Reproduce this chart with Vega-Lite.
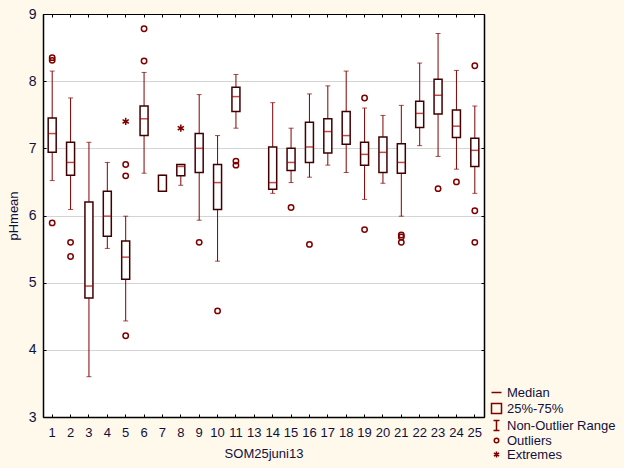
{
  "$schema": "https://vega.github.io/schema/vega-lite/v6.json",
  "width": 441,
  "height": 403,
  "autosize": {"type": "none"},
  "padding": {"left": 43, "top": 14, "right": 140, "bottom": 51},
  "background": "#FFF9EB",
  "config": {
    "view": {"fill": "white", "stroke": "black", "strokeWidth": 1},
    "font": "Liberation Sans",
    "axis": {"labelColor": "#101040", "titleColor": "#101040", "titleFontWeight": "normal", "titleFontSize": 13, "domainColor": "black", "tickColor": "black"},
    "legend": {"labelColor": "#101040", "labelFontSize": 13, "padding": 0}
  },
  "datasets": {
    "boxes": [
      {"g": "1", "lo": 6.52, "q1": 6.94, "med": 7.22, "q3": 7.45, "hi": 8.15},
      {"g": "2", "lo": 6.09, "q1": 6.6, "med": 6.79, "q3": 7.09, "hi": 7.75},
      {"g": "3", "lo": 3.6, "q1": 4.77, "med": 4.95, "q3": 6.2, "hi": 7.09},
      {"g": "4", "lo": 5.51, "q1": 5.69, "med": 5.99, "q3": 6.36, "hi": 6.79},
      {"g": "5", "lo": 4.43, "q1": 5.05, "med": 5.38, "q3": 5.62, "hi": 5.99},
      {"g": "6", "lo": 6.63, "q1": 7.19, "med": 7.44, "q3": 7.63, "hi": 8.13},
      {"g": "7", "lo": 6.36, "q1": 6.36, "med": null, "q3": 6.6, "hi": 6.6},
      {"g": "8", "lo": 6.45, "q1": 6.59, "med": 6.73, "q3": 6.76, "hi": 6.76},
      {"g": "9", "lo": 5.93, "q1": 6.64, "med": 7.0, "q3": 7.22, "hi": 7.8},
      {"g": "10", "lo": 5.32, "q1": 6.09, "med": 6.49, "q3": 6.76, "hi": 7.19},
      {"g": "11", "lo": 7.3, "q1": 7.55, "med": 7.77, "q3": 7.91, "hi": 8.1},
      {"g": "14", "lo": 6.33, "q1": 6.39, "med": 6.49, "q3": 7.02, "hi": 7.68},
      {"g": "15", "lo": 6.49, "q1": 6.67, "med": 6.79, "q3": 7.0, "hi": 7.3},
      {"g": "16", "lo": 6.57, "q1": 6.79, "med": 7.02, "q3": 7.39, "hi": 7.81},
      {"g": "17", "lo": 6.75, "q1": 6.93, "med": 7.25, "q3": 7.44, "hi": 7.93},
      {"g": "18", "lo": 6.64, "q1": 7.06, "med": 7.19, "q3": 7.55, "hi": 8.15},
      {"g": "19", "lo": 6.24, "q1": 6.75, "med": 6.91, "q3": 7.09, "hi": 7.6},
      {"g": "20", "lo": 6.48, "q1": 6.64, "med": 6.94, "q3": 7.17, "hi": 7.49},
      {"g": "21", "lo": 5.99, "q1": 6.63, "med": 6.79, "q3": 7.07, "hi": 7.64},
      {"g": "22", "lo": 7.04, "q1": 7.31, "med": 7.52, "q3": 7.7, "hi": 8.27},
      {"g": "23", "lo": 6.88, "q1": 7.51, "med": 7.79, "q3": 8.03, "hi": 8.71},
      {"g": "24", "lo": 6.69, "q1": 7.16, "med": 7.33, "q3": 7.57, "hi": 8.16},
      {"g": "25", "lo": 6.33, "q1": 6.73, "med": 6.97, "q3": 7.15, "hi": 7.63}
    ],
    "points": [
      {"g": "1", "v": 8.35, "type": "Outliers"},
      {"g": "1", "v": 8.31, "type": "Outliers"},
      {"g": "1", "v": 5.89, "type": "Outliers"},
      {"g": "2", "v": 5.6, "type": "Outliers"},
      {"g": "2", "v": 5.39, "type": "Outliers"},
      {"g": "5", "v": 6.76, "type": "Outliers"},
      {"g": "5", "v": 6.59, "type": "Outliers"},
      {"g": "5", "v": 4.21, "type": "Outliers"},
      {"g": "5", "v": 7.4, "type": "Extremes"},
      {"g": "6", "v": 8.78, "type": "Outliers"},
      {"g": "6", "v": 8.3, "type": "Outliers"},
      {"g": "8", "v": 7.3, "type": "Extremes"},
      {"g": "9", "v": 5.6, "type": "Outliers"},
      {"g": "10", "v": 4.58, "type": "Outliers"},
      {"g": "11", "v": 6.81, "type": "Outliers"},
      {"g": "11", "v": 6.75, "type": "Outliers"},
      {"g": "15", "v": 6.12, "type": "Outliers"},
      {"g": "16", "v": 5.57, "type": "Outliers"},
      {"g": "19", "v": 7.75, "type": "Outliers"},
      {"g": "19", "v": 5.79, "type": "Outliers"},
      {"g": "21", "v": 5.71, "type": "Outliers"},
      {"g": "21", "v": 5.68, "type": "Outliers"},
      {"g": "21", "v": 5.6, "type": "Outliers"},
      {"g": "23", "v": 6.4, "type": "Outliers"},
      {"g": "24", "v": 6.5, "type": "Outliers"},
      {"g": "25", "v": 8.23, "type": "Outliers"},
      {"g": "25", "v": 6.07, "type": "Outliers"},
      {"g": "25", "v": 5.6, "type": "Outliers"}
    ]
  },
  "resolve": {"axis": {"x": "independent", "y": "independent"}},
  "layer": [
    {
      "data": {"name": "boxes"},
      "mark": {"type": "rule", "color": "#800000", "strokeWidth": 1},
      "encoding": {
        "x": {"field": "g", "type": "ordinal",
          "scale": {"type": "band", "domain": ["1","2","3","4","5","6","7","8","9","10","11","13","14","15","16","17","18","19","20","21","22","23","24","25"], "paddingInner": 0, "paddingOuter": 0},
          "axis": {"orient": "bottom", "title": "SOM25juni13", "labelAngle": 0, "labelFontSize": 13, "labelPadding": 12, "tickSize": -3, "bandPosition": 0.5, "domainWidth": 1.5, "grid": false, "titlePadding": 8}},
        "y": {"field": "lo", "type": "quantitative",
          "scale": {"domain": [3, 9], "nice": false, "zero": false},
          "axis": {"orient": "left", "title": "pHmean", "values": [3,4,5,6,7,8,9], "labelFontSize": 14, "labelPadding": 10, "tickSize": -3, "domainWidth": 1.5, "grid": true, "gridColor": "#d4d4d4", "gridWidth": 1, "titlePadding": 8}},
        "y2": {"field": "hi"}
      }
    },
    {
      "data": {"name": "boxes"},
      "mark": {"type": "tick", "color": "#800000", "size": 5, "thickness": 1, "orient": "horizontal"},
      "encoding": {
        "x": {"field": "g", "type": "ordinal",
          "axis": {"orient": "top", "title": null, "labels": false, "tickSize": -3, "bandPosition": 0.5, "domainWidth": 1, "grid": false}},
        "y": {"field": "lo", "type": "quantitative",
          "axis": {"orient": "right", "title": null, "labels": false, "values": [3,4,5,6,7,8,9], "tickSize": -3, "domainWidth": 1.5, "grid": false}}
      }
    },
    {
      "data": {"name": "boxes"},
      "mark": {"type": "tick", "color": "#800000", "size": 5, "thickness": 1, "orient": "horizontal"},
      "encoding": {
        "x": {"field": "g", "type": "ordinal", "axis": null},
        "y": {"field": "hi", "type": "quantitative", "axis": null}
      }
    },
    {
      "data": {"name": "boxes"},
      "mark": {"type": "bar", "width": 8, "fill": "white", "stroke": "#400000", "strokeWidth": 1.5},
      "encoding": {
        "x": {"field": "g", "type": "ordinal", "axis": null},
        "y": {"field": "q1", "type": "quantitative", "axis": null},
        "y2": {"field": "q3"}
      }
    },
    {
      "data": {"name": "boxes"},
      "mark": {"type": "tick", "color": "#a00000", "size": 8, "thickness": 1.5, "orient": "horizontal"},
      "encoding": {
        "x": {"field": "g", "type": "ordinal", "axis": null},
        "y": {"field": "med", "type": "quantitative", "axis": null}
      }
    },
    {
      "data": {"name": "points"},
      "mark": {"type": "point", "filled": false, "color": "#800000", "strokeWidth": 1.5, "size": 144, "opacity": 1},
      "encoding": {
        "x": {"field": "g", "type": "ordinal", "axis": null},
        "y": {"field": "v", "type": "quantitative", "axis": null},
        "shape": {"field": "type", "type": "nominal",
          "scale": {"domain": ["Median", "25%-75%", "Non-Outlier Range", "Outliers", "Extremes"],
            "range": ["M-1,0H1", "M-1,-1H1V1H-1Z", "M-0.6,-1H0.6M0,-1V1M-0.6,1H0.6", "M0.45,0A0.45,0.45 0 1,1 -0.45,0A0.45,0.45 0 1,1 0.45,0", "M0,-0.6V0.6M-0.52,-0.3L0.52,0.3M-0.52,0.3L0.52,-0.3"]},
          "legend": {"title": null, "orient": "none", "legendX": 447, "legendY": 372, "symbolSize": 100, "symbolStrokeWidth": 1.5, "symbolStrokeColor": "#800000", "symbolFillColor": "transparent", "labelFontSize": 13, "rowPadding": 0, "labelOffset": 4, "symbolOffset": 0}}
      }
    }
  ]
}
